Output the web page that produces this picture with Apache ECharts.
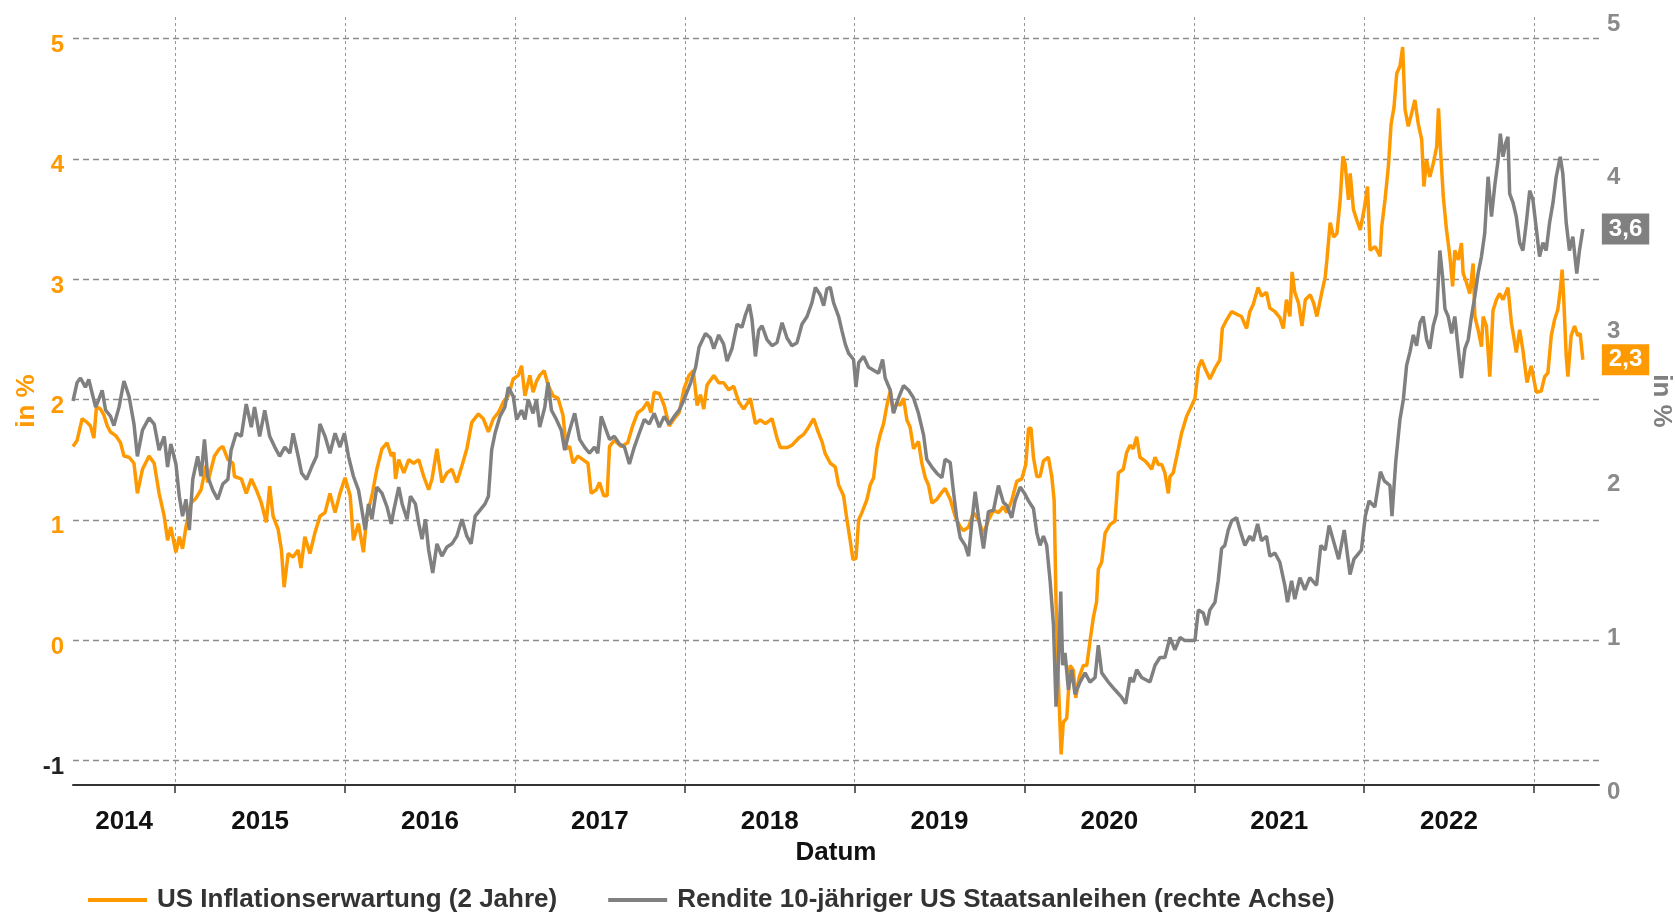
<!DOCTYPE html>
<html>
<head>
<meta charset="utf-8">
<script src="https://cdn.jsdelivr.net/npm/echarts@6/dist/echarts.min.js"></script>
<style>
html,body{margin:0;padding:0;background:#fff;}
#chart{width:1675px;height:912px;}
</style>
</head>
<body>
<div id="chart"></div>
<script>
// ---- data (x as decimal years) ----
const orangeYears = [2014.398,2014.422,2014.452,2014.481,2014.501,2014.521,2014.536,2014.560,2014.580,2014.600,2014.619,2014.649,2014.678,2014.698,2014.728,2014.757,2014.777,2014.807,2014.846,2014.876,2014.905,2014.935,2014.955,2014.974,2015.004,2015.024,2015.043,2015.063,2015.093,2015.122,2015.152,2015.181,2015.191,2015.211,2015.231,2015.260,2015.280,2015.310,2015.339,2015.349,2015.389,2015.418,2015.448,2015.477,2015.507,2015.536,2015.556,2015.576,2015.606,2015.625,2015.641,2015.665,2015.694,2015.724,2015.740,2015.763,2015.793,2015.822,2015.852,2015.882,2015.911,2015.941,2015.970,2016.000,2016.030,2016.049,2016.079,2016.108,2016.128,2016.158,2016.187,2016.217,2016.247,2016.272,2016.287,2016.297,2016.316,2016.346,2016.375,2016.404,2016.434,2016.463,2016.492,2016.512,2016.541,2016.570,2016.600,2016.629,2016.658,2016.688,2016.717,2016.746,2016.785,2016.814,2016.844,2016.873,2016.902,2016.932,2016.961,2016.990,2017.020,2017.039,2017.059,2017.088,2017.107,2017.127,2017.146,2017.172,2017.195,2017.225,2017.254,2017.283,2017.303,2017.322,2017.342,2017.371,2017.400,2017.430,2017.449,2017.479,2017.498,2017.523,2017.543,2017.557,2017.586,2017.625,2017.664,2017.693,2017.723,2017.752,2017.781,2017.801,2017.820,2017.850,2017.879,2017.908,2017.938,2017.967,2017.996,2018.025,2018.050,2018.073,2018.092,2018.112,2018.131,2018.171,2018.200,2018.229,2018.259,2018.288,2018.318,2018.347,2018.386,2018.416,2018.445,2018.475,2018.514,2018.543,2018.563,2018.602,2018.631,2018.671,2018.700,2018.729,2018.759,2018.788,2018.808,2018.827,2018.857,2018.886,2018.906,2018.935,2018.955,2018.975,2018.990,2019.008,2019.024,2019.043,2019.073,2019.092,2019.112,2019.131,2019.151,2019.171,2019.190,2019.210,2019.229,2019.249,2019.269,2019.288,2019.308,2019.327,2019.347,2019.376,2019.396,2019.416,2019.435,2019.455,2019.484,2019.514,2019.533,2019.563,2019.592,2019.622,2019.641,2019.671,2019.700,2019.729,2019.759,2019.788,2019.818,2019.847,2019.876,2019.896,2019.925,2019.955,2019.984,2020.008,2020.024,2020.039,2020.053,2020.073,2020.092,2020.112,2020.141,2020.161,2020.175,2020.186,2020.200,2020.216,2020.229,2020.249,2020.269,2020.288,2020.302,2020.322,2020.347,2020.367,2020.386,2020.406,2020.425,2020.435,2020.455,2020.475,2020.504,2020.533,2020.553,2020.582,2020.602,2020.622,2020.641,2020.661,2020.680,2020.710,2020.729,2020.749,2020.769,2020.788,2020.808,2020.827,2020.847,2020.857,2020.876,2020.906,2020.925,2020.955,2020.975,2021.004,2021.024,2021.043,2021.063,2021.092,2021.122,2021.151,2021.165,2021.190,2021.220,2021.249,2021.278,2021.308,2021.327,2021.347,2021.376,2021.396,2021.425,2021.445,2021.475,2021.504,2021.524,2021.543,2021.563,2021.576,2021.592,2021.614,2021.634,2021.654,2021.683,2021.703,2021.722,2021.751,2021.771,2021.781,2021.800,2021.820,2021.840,2021.859,2021.875,2021.888,2021.908,2021.918,2021.937,2021.957,2021.977,2022.000,2022.020,2022.035,2022.065,2022.094,2022.104,2022.123,2022.143,2022.159,2022.176,2022.192,2022.211,2022.227,2022.241,2022.260,2022.280,2022.299,2022.319,2022.339,2022.352,2022.368,2022.387,2022.407,2022.427,2022.438,2022.450,2022.466,2022.485,2022.505,2022.521,2022.534,2022.554,2022.573,2022.583,2022.603,2022.622,2022.642,2022.652,2022.671,2022.691,2022.701,2022.720,2022.740,2022.759,2022.779,2022.798,2022.818,2022.847,2022.867,2022.896,2022.916,2022.935,2022.959,2022.984,2023.014,2023.043,2023.063,2023.082,2023.102,2023.121,2023.141,2023.155,2023.166,2023.174,2023.190,2023.200,2023.219,2023.239,2023.258,2023.272,2023.288];
const orangeValues = [1.61,1.66,1.84,1.81,1.78,1.68,1.94,1.92,1.87,1.78,1.73,1.70,1.64,1.53,1.52,1.47,1.22,1.42,1.53,1.47,1.22,1.03,0.83,0.94,0.73,0.86,0.76,0.94,1.14,1.18,1.25,1.45,1.31,1.42,1.53,1.59,1.61,1.50,1.47,1.36,1.34,1.22,1.34,1.25,1.14,0.98,1.28,1.03,0.92,0.75,0.44,0.72,0.69,0.75,0.60,0.86,0.72,0.89,1.03,1.06,1.22,1.06,1.22,1.35,1.20,0.83,0.97,0.73,1.03,1.20,1.42,1.59,1.64,1.53,1.56,1.34,1.50,1.39,1.50,1.47,1.50,1.36,1.25,1.34,1.59,1.31,1.39,1.42,1.31,1.45,1.59,1.81,1.88,1.84,1.73,1.84,1.89,1.98,2.03,2.17,2.20,2.28,2.03,2.20,2.06,2.15,2.20,2.24,2.12,2.03,2.01,1.87,1.59,1.61,1.47,1.53,1.50,1.47,1.22,1.25,1.31,1.20,1.20,1.61,1.66,1.61,1.64,1.78,1.89,1.92,1.98,1.89,2.06,2.05,1.95,1.78,1.84,1.89,2.09,2.20,2.24,1.95,2.04,1.92,2.12,2.20,2.14,2.14,2.08,2.11,1.98,1.92,2.01,1.80,1.83,1.80,1.84,1.68,1.60,1.60,1.62,1.68,1.71,1.77,1.84,1.72,1.65,1.55,1.47,1.44,1.29,1.20,1.00,0.82,0.67,0.68,1.00,1.06,1.17,1.29,1.35,1.59,1.71,1.80,1.95,2.07,1.89,1.98,1.95,2.01,1.83,1.77,1.59,1.65,1.47,1.35,1.29,1.14,1.17,1.23,1.26,1.17,1.03,0.94,0.91,0.94,1.06,1.00,0.88,1.00,1.08,1.06,1.11,1.06,1.16,1.32,1.34,1.46,1.76,1.76,1.52,1.36,1.36,1.49,1.52,1.36,1.16,0.32,-0.35,-0.95,-0.68,-0.65,-0.21,-0.25,-0.48,-0.31,-0.21,-0.21,-0.01,0.19,0.32,0.59,0.65,0.89,0.96,0.99,1.39,1.42,1.56,1.62,1.59,1.69,1.52,1.49,1.46,1.42,1.52,1.46,1.46,1.39,1.22,1.36,1.39,1.59,1.72,1.86,1.92,2.01,2.26,2.33,2.26,2.17,2.26,2.33,2.59,2.66,2.73,2.71,2.69,2.59,2.73,2.79,2.93,2.86,2.89,2.76,2.73,2.68,2.59,2.83,2.69,3.06,2.89,2.80,2.61,2.83,2.87,2.80,2.69,2.89,3.02,3.16,3.47,3.35,3.38,3.66,4.02,3.96,3.66,3.88,3.58,3.49,3.41,3.58,3.77,3.24,3.27,3.19,3.44,3.66,3.94,4.29,4.43,4.71,4.77,4.93,4.41,4.27,4.38,4.49,4.29,4.16,3.77,3.99,3.85,3.96,4.10,4.42,4.07,3.69,3.41,3.19,2.94,3.24,3.16,3.30,3.05,2.97,2.88,3.13,2.69,2.58,2.44,2.69,2.61,2.19,2.74,2.83,2.88,2.83,2.93,2.64,2.39,2.58,2.41,2.14,2.28,2.06,2.07,2.19,2.22,2.53,2.66,2.75,2.91,3.08,2.88,2.36,2.19,2.53,2.61,2.53,2.55,2.33];

const grayYears = [2014.398,2014.422,2014.442,2014.471,2014.491,2014.511,2014.531,2014.550,2014.570,2014.590,2014.619,2014.639,2014.669,2014.698,2014.728,2014.757,2014.777,2014.807,2014.846,2014.876,2014.905,2014.935,2014.955,2014.974,2015.004,2015.024,2015.043,2015.063,2015.083,2015.103,2015.132,2015.152,2015.172,2015.191,2015.221,2015.250,2015.280,2015.310,2015.329,2015.359,2015.389,2015.418,2015.448,2015.467,2015.497,2015.527,2015.556,2015.586,2015.615,2015.645,2015.675,2015.694,2015.724,2015.744,2015.773,2015.803,2015.832,2015.852,2015.882,2015.911,2015.941,2015.970,2015.996,2016.020,2016.049,2016.079,2016.099,2016.118,2016.138,2016.158,2016.187,2016.217,2016.247,2016.272,2016.287,2016.316,2016.336,2016.365,2016.385,2016.414,2016.434,2016.453,2016.473,2016.492,2016.516,2016.541,2016.570,2016.600,2016.629,2016.658,2016.688,2016.717,2016.742,2016.766,2016.795,2016.824,2016.844,2016.863,2016.883,2016.912,2016.941,2016.961,2016.990,2017.010,2017.039,2017.059,2017.078,2017.107,2017.127,2017.146,2017.176,2017.195,2017.215,2017.244,2017.273,2017.293,2017.322,2017.352,2017.381,2017.410,2017.439,2017.469,2017.488,2017.508,2017.537,2017.557,2017.586,2017.615,2017.645,2017.674,2017.703,2017.732,2017.762,2017.791,2017.820,2017.850,2017.879,2017.908,2017.938,2017.967,2017.996,2018.035,2018.064,2018.084,2018.122,2018.151,2018.171,2018.200,2018.229,2018.249,2018.278,2018.308,2018.337,2018.357,2018.380,2018.396,2018.416,2018.435,2018.455,2018.484,2018.514,2018.543,2018.573,2018.602,2018.631,2018.661,2018.690,2018.720,2018.749,2018.769,2018.798,2018.818,2018.837,2018.857,2018.876,2018.906,2018.925,2018.945,2018.965,2018.994,2019.008,2019.024,2019.053,2019.082,2019.112,2019.141,2019.165,2019.180,2019.210,2019.229,2019.259,2019.288,2019.318,2019.347,2019.376,2019.406,2019.425,2019.455,2019.484,2019.514,2019.533,2019.563,2019.582,2019.602,2019.622,2019.651,2019.671,2019.690,2019.710,2019.729,2019.759,2019.788,2019.818,2019.847,2019.876,2019.896,2019.925,2019.945,2019.975,2020.000,2020.024,2020.053,2020.073,2020.092,2020.112,2020.131,2020.151,2020.171,2020.186,2020.200,2020.214,2020.225,2020.239,2020.259,2020.278,2020.298,2020.327,2020.357,2020.386,2020.416,2020.435,2020.455,2020.494,2020.533,2020.573,2020.596,2020.622,2020.641,2020.661,2020.690,2020.739,2020.769,2020.798,2020.827,2020.857,2020.886,2020.916,2020.945,2020.975,2021.004,2021.024,2021.053,2021.073,2021.092,2021.122,2021.141,2021.161,2021.180,2021.200,2021.220,2021.249,2021.269,2021.298,2021.327,2021.347,2021.373,2021.396,2021.425,2021.445,2021.475,2021.504,2021.533,2021.549,2021.573,2021.592,2021.622,2021.651,2021.680,2021.720,2021.745,2021.771,2021.794,2021.827,2021.850,2021.883,2021.917,2021.940,2021.962,2021.984,2022.007,2022.029,2022.063,2022.096,2022.119,2022.152,2022.164,2022.186,2022.211,2022.231,2022.250,2022.270,2022.290,2022.309,2022.329,2022.348,2022.368,2022.387,2022.407,2022.427,2022.446,2022.462,2022.476,2022.495,2022.515,2022.534,2022.554,2022.573,2022.593,2022.613,2022.632,2022.652,2022.671,2022.691,2022.710,2022.730,2022.750,2022.769,2022.789,2022.802,2022.818,2022.834,2022.847,2022.857,2022.877,2022.896,2022.916,2022.935,2022.955,2022.975,2022.994,2023.014,2023.033,2023.053,2023.072,2023.092,2023.112,2023.131,2023.155,2023.170,2023.190,2023.209,2023.229,2023.252,2023.268,2023.288];
const grayValues = [2.50,2.62,2.65,2.59,2.64,2.55,2.46,2.51,2.57,2.44,2.40,2.34,2.46,2.63,2.53,2.35,2.14,2.31,2.39,2.35,2.18,2.27,2.07,2.22,2.09,1.88,1.75,1.86,1.66,1.99,2.14,2.01,2.25,2.01,1.92,1.86,1.96,1.99,2.18,2.29,2.27,2.48,2.33,2.46,2.27,2.44,2.27,2.20,2.14,2.20,2.16,2.29,2.14,2.03,1.99,2.07,2.14,2.35,2.27,2.16,2.29,2.20,2.29,2.14,2.01,1.92,1.79,1.66,1.83,1.73,1.94,1.90,1.81,1.70,1.79,1.94,1.83,1.73,1.88,1.83,1.70,1.60,1.73,1.53,1.38,1.57,1.49,1.55,1.57,1.62,1.73,1.62,1.57,1.75,1.79,1.83,1.88,2.18,2.29,2.40,2.46,2.59,2.53,2.38,2.44,2.38,2.51,2.42,2.51,2.33,2.46,2.62,2.44,2.38,2.31,2.18,2.31,2.42,2.25,2.20,2.16,2.20,2.16,2.40,2.31,2.25,2.27,2.22,2.20,2.09,2.20,2.29,2.38,2.35,2.42,2.33,2.40,2.35,2.40,2.44,2.51,2.62,2.72,2.85,2.94,2.91,2.84,2.93,2.87,2.76,2.84,3.00,2.98,3.06,3.13,3.03,2.79,2.96,2.99,2.90,2.86,2.88,3.01,2.91,2.86,2.88,3.00,3.05,3.14,3.24,3.19,3.12,3.23,3.24,3.14,3.05,2.96,2.87,2.81,2.77,2.59,2.75,2.79,2.72,2.70,2.68,2.77,2.65,2.57,2.42,2.52,2.60,2.57,2.52,2.42,2.28,2.12,2.07,2.03,2.00,2.12,2.10,1.91,1.73,1.61,1.56,1.49,1.71,1.91,1.75,1.54,1.78,1.79,1.95,1.84,1.82,1.74,1.85,1.94,1.90,1.85,1.80,1.64,1.56,1.62,1.56,1.33,1.04,0.51,0.80,1.26,0.78,0.86,0.62,0.75,0.59,0.67,0.73,0.67,0.70,0.91,0.73,0.67,0.62,0.57,0.53,0.70,0.67,0.75,0.70,0.67,0.78,0.83,0.83,0.96,0.88,0.96,0.94,0.94,0.94,1.14,1.12,1.04,1.14,1.19,1.33,1.54,1.56,1.66,1.72,1.74,1.66,1.56,1.62,1.59,1.70,1.59,1.62,1.49,1.51,1.45,1.30,1.19,1.33,1.21,1.35,1.27,1.35,1.30,1.56,1.53,1.69,1.56,1.47,1.66,1.37,1.47,1.50,1.53,1.75,1.85,1.81,2.04,1.98,1.95,1.75,2.10,2.38,2.51,2.73,2.82,2.93,2.86,3.01,3.05,2.90,2.84,2.99,3.07,3.48,3.31,3.10,3.05,2.94,3.05,2.84,2.65,2.84,2.90,3.05,3.18,3.33,3.44,3.59,3.96,3.70,3.90,4.07,4.24,4.09,4.18,4.22,3.85,3.79,3.70,3.53,3.48,3.66,3.87,3.81,3.62,3.44,3.53,3.48,3.66,3.79,3.96,4.09,3.98,3.66,3.48,3.57,3.33,3.48,3.62];

const yearBoundaries = [2015, 2016, 2017, 2018, 2019, 2020, 2021, 2022, 2023];
const yearLabels = ['2014', '2015', '2016', '2017', '2018', '2019', '2020', '2021', '2022'];
const seriesNames = ['US Inflationserwartung (2 Jahre)', 'Rendite 10-jähriger US Staatsanleihen (rechte Achse)'];

// ---- layout / style ----
const X_MIN = 2014.398, X_MAX = 2023.383;
const ORANGE = '#FF9900', GRAY = '#808080';
const FONT = '"Liberation Sans", Arial, sans-serif';

const labelPos = yearLabels.map((y, i) => i === 0 ? (X_MIN + yearBoundaries[0]) / 2 : yearBoundaries[i - 1] + 0.5);
function yearLabelFor(v) {
  let best = 0, bd = 1e9;
  labelPos.forEach((p, i) => { const d = Math.abs(p - v); if (d < bd) { bd = d; best = i; } });
  return yearLabels[best];
}
const zip = (xs, ys) => xs.map((x, i) => [x, ys[i]]);
const isInt = v => Math.abs(v - Math.round(v)) < 1e-6;

const chart = echarts.init(document.getElementById('chart'), null, {renderer: 'canvas'});
chart.setOption({
  animation: false,
  textStyle: {fontFamily: FONT},
  grid: {left: 73, right: 76, top: 17, bottom: 127, containLabel: false, outerBoundsMode: 'none'},
  legend: {
    left: 83, top: 882, icon: 'rect', itemWidth: 59, itemHeight: 4, itemGap: 51,
    textStyle: {fontFamily: FONT, fontSize: 26, fontWeight: 'bold', color: '#333', padding: [0, 0, 0, 5]},
    data: seriesNames
  },
  xAxis: {
    type: 'value', min: X_MIN, max: X_MAX,
    name: 'Datum', nameLocation: 'middle', nameGap: 46,
    nameTextStyle: {fontSize: 26, fontWeight: 'bold', color: '#111'},
    axisLine: {show: true, onZero: false, lineStyle: {color: '#333', width: 2}},
    axisTick: {show: true, customValues: yearBoundaries, length: 8, lineStyle: {color: '#333', width: 1.5}},
    splitLine: {show: true, lineStyle: {color: '#999', width: 1, type: [3, 3]}},
    axisLabel: {
      customValues: labelPos, formatter: v => yearLabelFor(v), margin: 24,
      fontSize: 26, fontWeight: 'bold', color: '#111'
    }
  },
  yAxis: [{
    type: 'value', position: 'left', min: -1.204, max: 5.179, minInterval: 1, maxInterval: 1,
    name: 'in %', nameLocation: 'middle', nameGap: 33, nameMoveOverlap: false,
    nameTextStyle: {fontSize: 26, fontWeight: 'bold', color: ORANGE},
    axisLine: {show: false}, axisTick: {show: false},
    axisLabel: {
      showMinLabel: false, showMaxLabel: false, margin: 9,
      formatter: v => isInt(v) ? (v < 0 ? '{k|' + Math.round(v) + '}' : '{n|' + Math.round(v) + '}') : '',
      rich: {
        n: {color: ORANGE, fontSize: 24, fontWeight: 'bold', fontFamily: FONT, padding: [14, 0, 0, 0]},
        k: {color: '#222', fontSize: 24, fontWeight: 'bold', fontFamily: FONT, padding: [14, 0, 0, 0]}
      }
    },
    splitLine: {show: true, showMinLine: false, showMaxLine: false, lineStyle: {color: '#8c8c8c', width: 1.3, type: [6, 4]}}
  }, {
    type: 'value', position: 'right', min: 0, max: 5, interval: 1,
    name: 'in %', nameLocation: 'middle', nameGap: 49, nameRotate: -90,
    nameTextStyle: {fontSize: 26, fontWeight: 'bold', color: GRAY},
    axisLine: {show: false}, axisTick: {show: false},
    axisLabel: {
      margin: 8, formatter: v => '{g|' + v + '}',
      rich: {g: {color: '#8a8a8a', fontSize: 24, fontWeight: 'bold', fontFamily: FONT, padding: [14, 0, 0, 0]}}
    },
    splitLine: {show: false}
  }],
  series: [{
    name: seriesNames[0], type: 'line', yAxisIndex: 0, showSymbol: false, symbol: 'none',
    data: zip(orangeYears, orangeValues),
    lineStyle: {color: ORANGE, width: 3.5}, itemStyle: {color: ORANGE},
    endLabel: {show: true, distance: 19, formatter: p => p.value[1].toFixed(1).replace('.', ','),
      backgroundColor: ORANGE, color: '#fff', fontSize: 24, fontWeight: 'bold', padding: [4, 7, 3, 7]}
  }, {
    name: seriesNames[1], type: 'line', yAxisIndex: 1, showSymbol: false, symbol: 'none',
    data: zip(grayYears, grayValues),
    lineStyle: {color: GRAY, width: 3.5}, itemStyle: {color: GRAY},
    endLabel: {show: true, distance: 19, formatter: p => p.value[1].toFixed(1).replace('.', ','),
      backgroundColor: GRAY, color: '#fff', fontSize: 24, fontWeight: 'bold', padding: [4, 7, 3, 7]}
  }]
});
</script>
</body>
</html>
